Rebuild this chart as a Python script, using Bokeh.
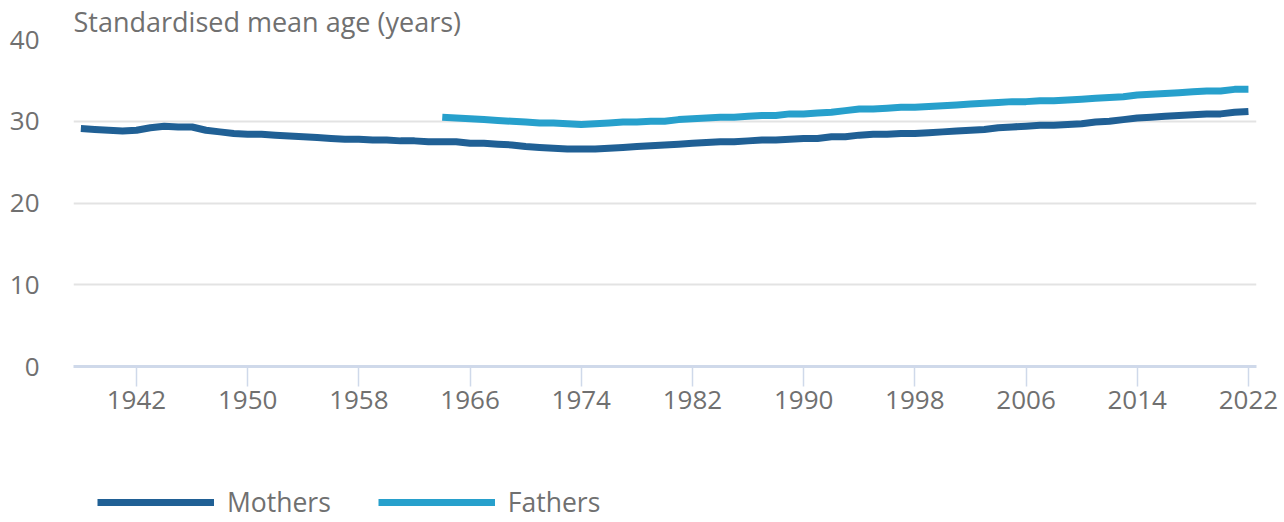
from bokeh.plotting import figure
from bokeh.models import Range1d, FixedTicker, Legend, LegendItem, Title
from bokeh.layouts import column
from bokeh.embed import file_html
from bokeh.resources import INLINE

mother_years = list(range(1938, 2023))
mothers = [29.1, 29.0, 28.9, 28.8, 28.9, 29.2, 29.4, 29.3, 29.3, 28.9,
           28.7, 28.5, 28.4, 28.4, 28.3, 28.2, 28.1, 28.0, 27.9, 27.8,
           27.8, 27.7, 27.7, 27.6, 27.6, 27.5, 27.5, 27.5, 27.3, 27.3,
           27.2, 27.1, 26.9, 26.8, 26.7, 26.6, 26.6, 26.6, 26.7, 26.8,
           26.9, 27.0, 27.1, 27.2, 27.3, 27.4, 27.5, 27.5, 27.6, 27.7,
           27.7, 27.8, 27.9, 27.9, 28.1, 28.1, 28.3, 28.4, 28.4, 28.5,
           28.5, 28.6, 28.7, 28.8, 28.9, 29.0, 29.2, 29.3, 29.4, 29.5,
           29.5, 29.6, 29.7, 29.9, 30.0, 30.2, 30.4, 30.5, 30.6, 30.7,
           30.8, 30.9, 30.9, 31.1, 31.2]

father_years = list(range(1964, 2023))
fathers = [30.5, 30.4, 30.3, 30.2, 30.1, 30.0, 29.9, 29.8, 29.8, 29.7,
           29.6, 29.7, 29.8, 29.9, 29.9, 30.0, 30.0, 30.2, 30.3, 30.4,
           30.5, 30.5, 30.6, 30.7, 30.7, 30.9, 30.9, 31.0, 31.1, 31.3,
           31.5, 31.5, 31.6, 31.7, 31.7, 31.8, 31.9, 32.0, 32.1, 32.2,
           32.3, 32.4, 32.4, 32.5, 32.5, 32.6, 32.7, 32.8, 32.9, 33.0,
           33.2, 33.3, 33.4, 33.5, 33.6, 33.7, 33.7, 33.9, 33.9]

x_ticks = list(range(1942, 2023, 8))
y_ticks = [0, 10, 20, 30, 40]
series_names = ["Mothers", "Fathers"]
y_title = "Standardised mean age (years)"

FONT = "Open Sans"
GREY = "#707070"
C_M = "#206095"
C_F = "#27a0cc"

H1 = 424
H2 = 522 - H1

p = figure(width=1284, height=H1, output_backend="svg", toolbar_location=None,
           x_range=Range1d(1937.47, 2022.58), y_range=Range1d(0, 40),
           min_border_left=73, min_border_right=28, min_border_top=38,
           min_border_bottom=H1 - 366, title=None)
p.outline_line_color = None

p.title = Title(text=y_title, align="left", standoff=0,
                text_font=FONT, text_font_size="27px", text_color=GREY,
                text_font_style="normal")

p.line(mother_years, mothers, line_color=C_M, line_width=7)
p.line(father_years, fathers, line_color=C_F, line_width=7)

p.xgrid.grid_line_color = None
p.ygrid.ticker = FixedTicker(ticks=[10, 20, 30, 40])
p.ygrid.grid_line_color = "#e3e3e3"
p.ygrid.grid_line_width = 2

xa = p.xaxis[0]
xa.ticker = FixedTicker(ticks=x_ticks)
xa.axis_line_color = "#cfd9ea"
xa.axis_line_width = 3
xa.major_tick_line_color = "#cfd9ea"
xa.major_tick_line_width = 1.5
xa.major_tick_out = 20
xa.major_tick_in = 0
xa.minor_tick_line_color = None
xa.major_label_standoff = 4
xa.major_label_text_font = FONT
xa.major_label_text_font_size = "26px"
xa.major_label_text_color = GREY

ya = p.yaxis[0]
ya.ticker = FixedTicker(ticks=y_ticks)
ya.axis_line_color = None
ya.major_tick_line_color = None
ya.minor_tick_line_color = None
ya.major_label_standoff = 28
ya.major_label_text_font = FONT
ya.major_label_text_font_size = "26px"
ya.major_label_text_color = GREY

# legend strip below the chart (series drawn out of view; only the legend shows)
q = figure(width=1284, height=H2, output_backend="svg", toolbar_location=None,
           x_range=Range1d(0, 1), y_range=Range1d(0, 1),
           min_border_left=0, min_border_right=0, min_border_top=0,
           min_border_bottom=0, title=None)
q.outline_line_color = None
q.axis.visible = False
q.grid.grid_line_color = None
lm = q.line(mother_years, mothers, line_color=C_M, line_width=7)
lf = q.line(father_years, fathers, line_color=C_F, line_width=7)
legend = Legend(items=[LegendItem(label=series_names[0], renderers=[lm]),
                       LegendItem(label=series_names[1], renderers=[lf])],
                orientation="horizontal", location=(24, 2),
                glyph_width=117, glyph_height=26, label_standoff=13, spacing=47,
                label_text_font=FONT, label_text_font_size="26.5px",
                label_text_color=GREY, border_line_color=None,
                background_fill_alpha=0, padding=0, margin=0)
q.add_layout(legend, "center")

open("out.html", "w").write(file_html(column(p, q, spacing=0), INLINE))
